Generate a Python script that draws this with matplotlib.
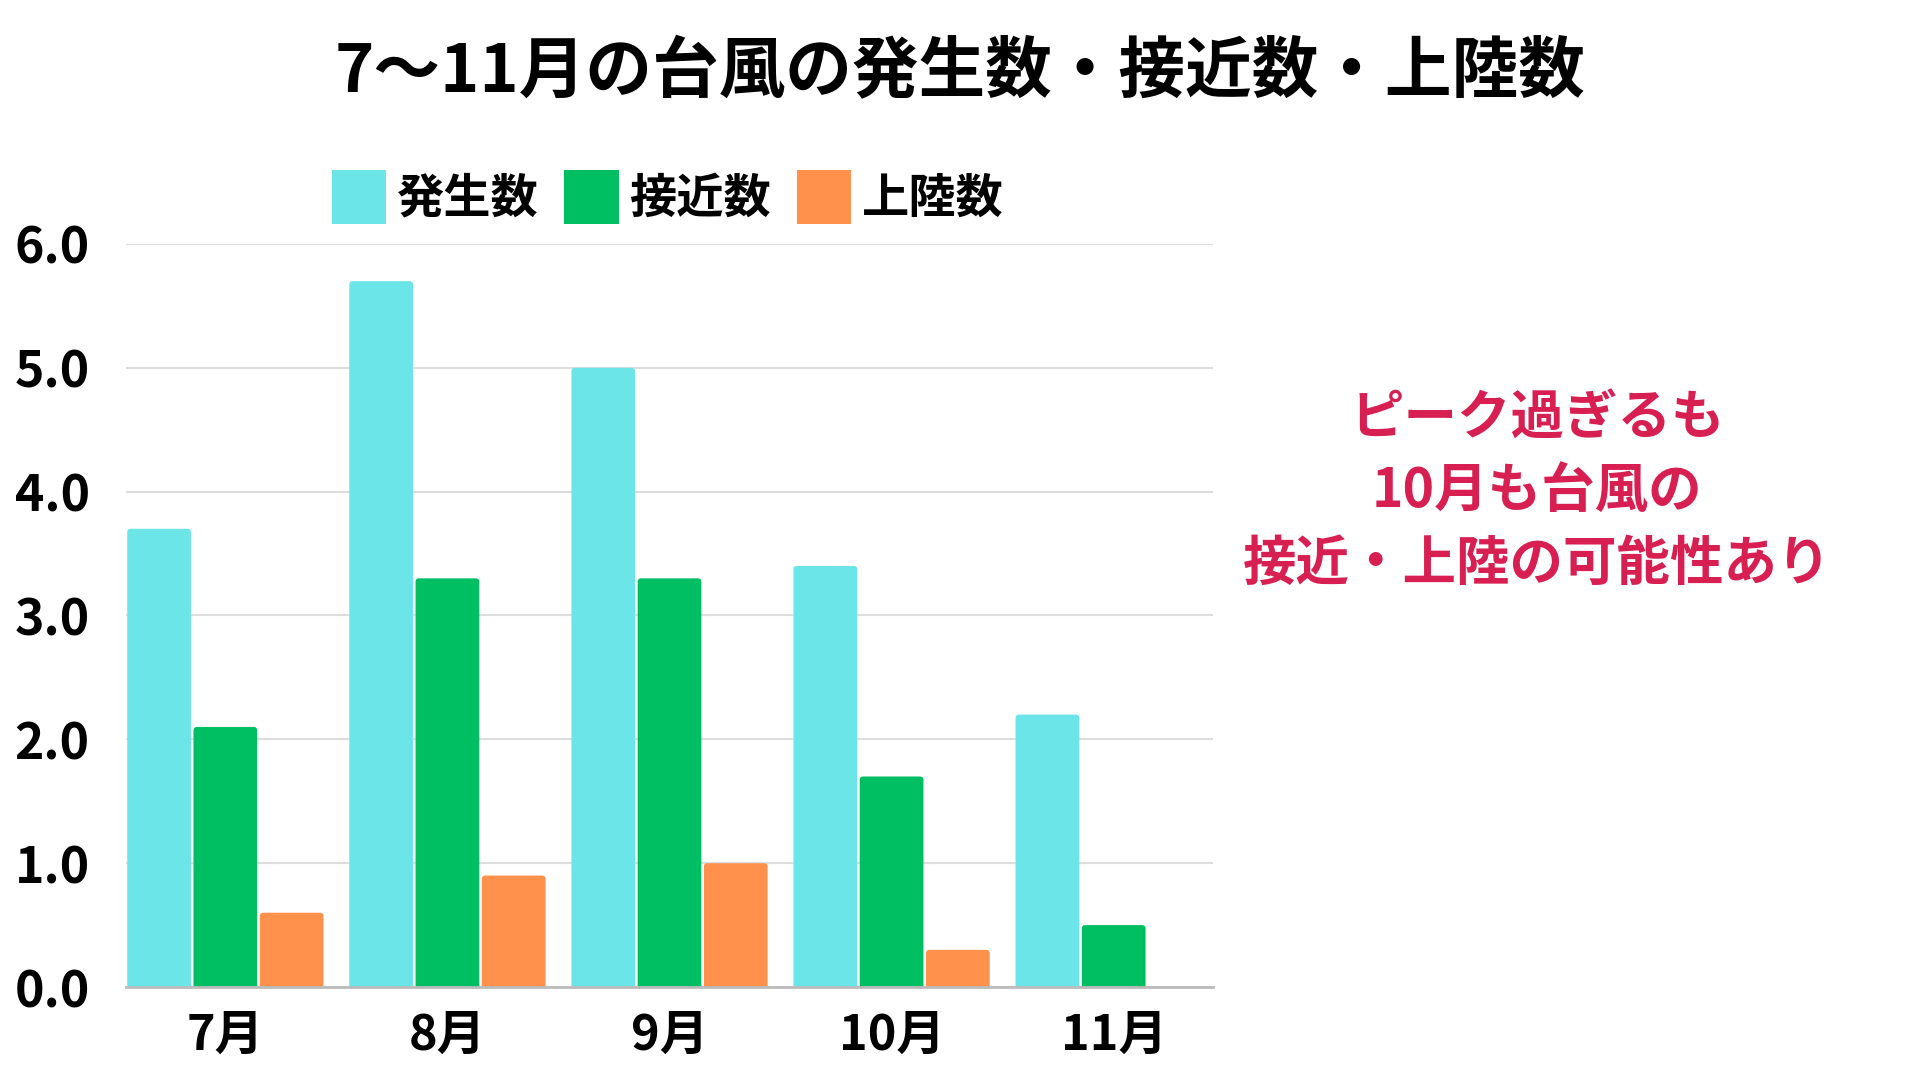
import matplotlib
matplotlib.use("Agg")
import matplotlib.pyplot as plt
from matplotlib.patches import FancyBboxPatch, Patch
import numpy as np

plt.rcParams['font.family'] = ['Noto Sans CJK JP', 'DejaVu Sans']

months = ["7月", "8月", "9月", "10月", "11月"]
series_names = ["発生数", "接近数", "上陸数"]
hassei = [3.7, 5.7, 5.0, 3.4, 2.2]
sekkin = [2.1, 3.3, 3.3, 1.7, 0.5]
joriku = [0.6, 0.9, 1.0, 0.3, 0.0]
yticks = [0.0, 1.0, 2.0, 3.0, 4.0, 5.0, 6.0]
title = "7〜11月の台風の発生数・接近数・上陸数"
note = "ピーク過ぎるも\n10月も台風の\n接近・上陸の可能性あり"

colors = ["#6CE5E8", "#00BF63", "#FF914D"]

fig = plt.figure(figsize=(19.2, 10.8), dpi=100)
ax_rect = [0.0656, 0.0861, 0.5662, 0.688]
ax = fig.add_axes(ax_rect)

x = np.arange(len(months))
slot = 0.2983
bw = 0.287
xlim = (-0.4475, 4.4475)
ylim = (0, 6)
ax.set_xlim(*xlim)
ax.set_ylim(*ylim)

# aspect: y data units per x data unit in display space
ax_w_px = ax_rect[2] * 1920
ax_h_px = ax_rect[3] * 1080
aspect = ((ylim[1] - ylim[0]) / ax_h_px) / ((xlim[1] - xlim[0]) / ax_w_px)
r = 0.016

for j, (vals, name) in enumerate(zip([hassei, sekkin, joriku], series_names)):
    bars = ax.bar(x + (j - 1) * slot, vals, width=bw, color=colors[j], label=name, zorder=3)
    for rect in bars:
        bx, by, w, h = rect.get_x(), rect.get_y(), rect.get_width(), rect.get_height()
        rect.set_visible(False)
        if h <= 0:
            continue
        ext = r * aspect * 1.5
        p = FancyBboxPatch((bx, by - ext), w, h + ext,
                           boxstyle=f"round,pad=0,rounding_size={r}",
                           mutation_aspect=aspect, facecolor=colors[j],
                           edgecolor='none', zorder=3)
        ax.add_patch(p)

ax.set_yticks(yticks)
ax.set_yticklabels([f"{v:.1f}" for v in yticks])
ax.set_xticks(x)
ax.set_xticklabels(months)
ax.tick_params(axis='y', length=0, pad=26, labelsize=36)
ax.tick_params(axis='x', length=0, pad=17, labelsize=35)
for lab in ax.get_xticklabels() + ax.get_yticklabels():
    lab.set_fontweight('bold')
ax.grid(axis='y', color='#DDDDDD', linewidth=1.5, zorder=0)
for s in ['top', 'right', 'left']:
    ax.spines[s].set_visible(False)
ax.spines['bottom'].set_color('#BBBBBB')
ax.spines['bottom'].set_linewidth(2)
ax.spines['bottom'].set_zorder(4)

handles = [Patch(facecolor=c, edgecolor='none') for c in colors]
leg = fig.legend(handles, series_names, loc='center',
                 bbox_to_anchor=(ax_rect[0] + ax_rect[2] / 2 - 0.001, 1 - 197 / 1080),
                 bbox_transform=fig.transFigure, ncol=3, frameon=False,
                 prop={'size': 34, 'weight': 'bold'}, handlelength=1.15, handleheight=1.4,
                 handletextpad=0.22, columnspacing=0.55, borderaxespad=0.0, borderpad=0.0)

fig.text(0.5, 0.933, title, ha='center', va='center', fontsize=48, fontweight='bold')
fig.text(0.8007, 0.545, note, ha='center', va='center', fontsize=38.5, fontweight='bold',
         color='#D81F52', linespacing=1.41)

fig.savefig("out.png", dpi=100, facecolor='white')
